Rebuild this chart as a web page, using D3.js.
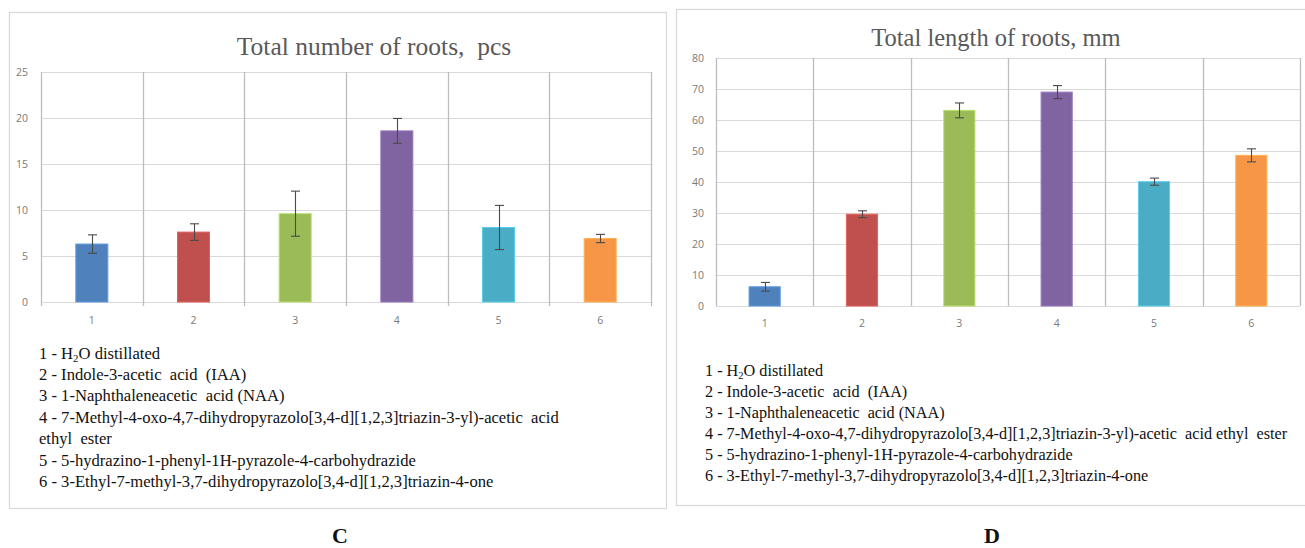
<!DOCTYPE html>
<html>
<head>
<meta charset="utf-8">
<script src="https://cdn.jsdelivr.net/npm/d3@7"></script>
<style>
  html, body { margin: 0; padding: 0; background: #fff; }
  svg { display: block; }
  text { white-space: pre; }
  .serif { font-family: "Liberation Serif", "Tinos", "Times New Roman", "DejaVu Serif", serif; }
</style>
</head>
<body>
<svg id="fig" width="1305" height="548"></svg>
<script>
// Treatments (x categories)
const categories = ["1", "2", "3", "4", "5", "6"];

// Panel C: total number of roots, pcs (mean and error)
const rootCount    = [6.3, 7.6, 9.6, 18.6, 8.1, 6.9];
const rootCountErr = [1.0, 0.9, 2.45, 1.35, 2.4, 0.45];
const countTicks   = [0, 5, 10, 15, 20, 25];

// Panel D: total length of roots, mm (mean and error)
const rootLength    = [6.2, 29.6, 63.1, 69.0, 40.1, 48.6];
const rootLengthErr = [1.4, 1.1, 2.4, 2.1, 1.15, 2.1];
const lengthTicks   = [0, 10, 20, 30, 40, 50, 60, 70, 80];

const barColors = ["#4f81bd", "#c0504d", "#9bbb59", "#8064a2", "#4bacc6", "#f79646"];

// Legend lines; "H2O" gets its subscript at draw time
const legendC = [
  "1 - H2O distillated",
  "2 - Indole-3-acetic  acid  (IAA)",
  "3 - 1-Naphthaleneacetic  acid (NAA)",
  "4 - 7-Methyl-4-oxo-4,7-dihydropyrazolo[3,4-d][1,2,3]triazin-3-yl)-acetic  acid",
  "ethyl  ester",
  "5 - 5-hydrazino-1-phenyl-1H-pyrazole-4-carbohydrazide",
  "6 - 3-Ethyl-7-methyl-3,7-dihydropyrazolo[3,4-d][1,2,3]triazin-4-one"
];
const legendD = [
  "1 - H2O distillated",
  "2 - Indole-3-acetic  acid  (IAA)",
  "3 - 1-Naphthaleneacetic  acid (NAA)",
  "4 - 7-Methyl-4-oxo-4,7-dihydropyrazolo[3,4-d][1,2,3]triazin-3-yl)-acetic  acid ethyl  ester",
  "5 - 5-hydrazino-1-phenyl-1H-pyrazole-4-carbohydrazide",
  "6 - 3-Ethyl-7-methyl-3,7-dihydropyrazolo[3,4-d][1,2,3]triazin-4-one"
];

const svg = d3.select("#fig");
const SANS = "'Open Sans', 'Liberation Sans', sans-serif";

function drawPanel(cfg) {
  const g = svg.append("g");

  // outer frame of the chart box
  g.append("rect")
    .attr("x", cfg.frame.x).attr("y", cfg.frame.y)
    .attr("width", cfg.frame.w).attr("height", cfg.frame.h)
    .attr("fill", "#fff").attr("stroke", "#d9d9d9").attr("stroke-width", 1.3);

  const x = d3.scaleBand().domain(categories)
    .range([cfg.plot.x0, cfg.plot.x1]).paddingInner(0).paddingOuter(0);
  const y = d3.scaleLinear().domain([0, cfg.ticks[cfg.ticks.length - 1]])
    .range([cfg.plot.y1, cfg.plot.y0]);

  // horizontal gridlines
  g.append("g").selectAll("line").data(cfg.ticks).join("line")
    .attr("x1", cfg.plot.x0).attr("x2", cfg.plot.x1)
    .attr("y1", d => Math.round(y(d)) + 0.5).attr("y2", d => Math.round(y(d)) + 0.5)
    .attr("stroke", "#d9d9d9").attr("stroke-width", 1.2);

  // vertical category separators
  const bounds = categories.map(c => x(c)).concat([x.range()[1]]);
  g.append("g").selectAll("line").data(bounds).join("line")
    .attr("x1", d => Math.round(d) + 0.5).attr("x2", d => Math.round(d) + 0.5)
    .attr("y1", cfg.plot.y0).attr("y2", cfg.plot.y1 + cfg.tickOut)
    .attr("stroke", "#bdbdbd").attr("stroke-width", 1.3);

  // y axis labels
  const yAxis = d3.axisLeft(y).tickValues(cfg.ticks).tickSize(0).tickPadding(0);
  const ya = g.append("g").attr("transform", `translate(${cfg.yLabelX},0)`).call(yAxis);
  ya.select(".domain").remove();
  ya.selectAll("text").attr("font-family", SANS).attr("font-size", 10.5)
    .attr("fill", "#7a7a7a");

  // x axis labels
  const xAxis = d3.axisBottom(x).tickSize(0).tickPadding(0);
  const xa = g.append("g").attr("transform", `translate(0,${cfg.xLabelY})`).call(xAxis);
  xa.select(".domain").remove();
  xa.selectAll("text").attr("font-family", SANS).attr("font-size", 10.5)
    .attr("fill", "#7a7a7a").attr("dy", "0.35em");

  // bars
  const bw = x.bandwidth() * cfg.barFrac;
  const data = categories.map((c, i) => ({ c, v: cfg.values[i], e: cfg.errors[i], col: barColors[i] }));
  g.append("g").selectAll("rect").data(data).join("rect")
    .attr("x", d => x(d.c) + (x.bandwidth() - bw) / 2)
    .attr("width", bw)
    .attr("y", d => y(d.v))
    .attr("height", d => y(0) - y(d.v))
    .attr("fill", d => d.col)
    .attr("stroke", d => d3.color(d.col).brighter(0.5))
    .attr("stroke-width", 1);

  // error bars
  const eb = g.append("g").attr("stroke", "#4a4a4a").attr("stroke-width", 1.1);
  const cx = d => Math.round(x(d.c) + x.bandwidth() / 2) + 0.5;
  eb.selectAll("line.v").data(data).join("line").attr("class", "v")
    .attr("x1", cx).attr("x2", cx)
    .attr("y1", d => y(d.v + d.e)).attr("y2", d => y(d.v - d.e));
  eb.selectAll("line.t").data(data).join("line").attr("class", "t")
    .attr("x1", d => cx(d) - 4.5).attr("x2", d => cx(d) + 4.5)
    .attr("y1", d => y(d.v + d.e)).attr("y2", d => y(d.v + d.e));
  eb.selectAll("line.b").data(data).join("line").attr("class", "b")
    .attr("x1", d => cx(d) - 4.5).attr("x2", d => cx(d) + 4.5)
    .attr("y1", d => y(d.v - d.e)).attr("y2", d => y(d.v - d.e));

  // chart title
  g.append("text").attr("class", "serif")
    .attr("x", cfg.title.x).attr("y", cfg.title.y)
    .attr("text-anchor", "middle")
    .style("font-size", cfg.title.size + "px")
    .attr("fill", "#595959")
    .text(cfg.title.text);

  // treatment legend
  const lg = g.append("g").attr("class", "serif").style("font-size", cfg.legend.size + "px")
    .attr("fill", "#111");
  cfg.legend.lines.forEach((line, i) => {
    const t = lg.append("text").attr("class", "serif")
      .attr("x", cfg.legend.x).attr("y", cfg.legend.y + i * cfg.legend.step);
    const k = line.indexOf("H2O");
    if (k >= 0) {
      t.append("tspan").text(line.slice(0, k + 1));
      t.append("tspan").style("font-size", (cfg.legend.size * 0.65) + "px").attr("dy", 3).text("2");
      t.append("tspan").attr("dy", -3).text(line.slice(k + 2));
    } else {
      t.text(line);
    }
  });

  // panel letter
  svg.append("text").attr("class", "serif")
    .attr("x", cfg.letter.x).attr("y", cfg.letter.y)
    .attr("text-anchor", "middle")
    .style("font-weight", "bold").style("font-size", "22px")
    .attr("fill", "#111")
    .text(cfg.letter.text);
}

drawPanel({
  frame: { x: 9.5, y: 12.5, w: 657, h: 496 },
  plot: { x0: 41, x1: 651, y0: 72, y1: 302 },
  ticks: countTicks,
  values: rootCount, errors: rootCountErr,
  barFrac: 0.315,
  tickOut: 4,
  yLabelX: 28, xLabelY: 320,
  title: { text: "Total number of roots,  pcs", x: 374, y: 55, size: 25.5 },
  legend: { lines: legendC, x: 39, y: 358.5, step: 21.4, size: 16.6 },
  letter: { text: "C", x: 340, y: 543 }
});

drawPanel({
  frame: { x: 676.5, y: 9.5, w: 640, h: 496 },
  plot: { x0: 716, x1: 1300, y0: 58, y1: 306 },
  ticks: lengthTicks,
  values: rootLength, errors: rootLengthErr,
  barFrac: 0.32,
  tickOut: 0,
  yLabelX: 704, xLabelY: 323,
  title: { text: "Total length of roots, mm", x: 996, y: 46, size: 24.5 },
  legend: { lines: legendD, x: 705, y: 376, step: 21, size: 16.2 },
  letter: { text: "D", x: 992, y: 543 }
});
</script>
</body>
</html>
